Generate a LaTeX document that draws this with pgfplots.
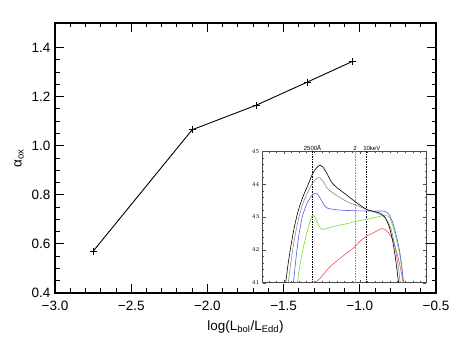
\documentclass[border=0pt]{standalone}
\usepackage{fontspec}
\setmainfont{Liberation Sans}
\usepackage{pgfplots}
\pgfplotsset{compat=1.18}

\definecolor{sedgray}{RGB}{140,140,140}
\definecolor{sedblue}{RGB}{90,90,235}
\definecolor{sedgreen}{RGB}{110,225,50}
\definecolor{sedred}{RGB}{235,85,85}

\begin{document}
\begin{tikzpicture}
\useasboundingbox (-55pt,-55pt) rectangle (408pt,293pt);
% main panel: alpha_ox against Eddington ratio
\begin{axis}[
  at={(0pt,0pt)}, anchor=south west,
  scale only axis, width=381pt, height=270pt,
  xmin=-3, xmax=-0.5, ymin=0.4, ymax=1.5,
  xtick={-3,-2.5,-2,-1.5,-1,-0.5},
  xticklabels={−3.0,−2.5,−2.0,−1.5,−1.0,−0.5},
  ytick={0.4,0.6,0.8,1.0,1.2,1.4},
  yticklabels={0.4,0.6,0.8,1.0,1.2,1.4},
  minor x tick num=4, minor y tick num=3,
  tick align=inside,
  major tick length=9pt, minor tick length=4.5pt,
  axis line style={line width=1.1pt},
  every tick/.style={line width=0.9pt, black},
  ticklabel style={font=\fontsize{13.5}{15}\selectfont},
  xticklabel style={yshift=-5pt},
  yticklabel style={xshift=-1pt},
  xlabel={log(L\textsubscript{bol}/L\textsubscript{Edd})},
  ylabel={α\textsubscript{ox}},
  label style={font=\fontsize{13.5}{15}\selectfont},
  xlabel style={yshift=-3pt},
  ylabel style={yshift=1pt},
]
\addplot[black, line width=0.9pt, mark=+, mark size=3.5pt] coordinates
  {(-2.75,0.570)(-2.10,1.065)(-1.68,1.165)(-1.345,1.259)(-1.05,1.343)};
\end{axis}
% inset: SEDs
\begin{axis}[
  at={(207.7pt,10.3pt)}, anchor=south west,
  scale only axis, width=163.3pt, height=131.4pt,
  xmin=12, xmax=22, ymin=41, ymax=45,
  axis background/.style={fill=white},
  xtick={13.30,17.94}, xticklabels={},
  minor xtick={12.372,12.836,...,21.9},
  ytick={41,42,43,44,45},
  minor y tick num=4,
  tick align=inside,
  major tick length=3pt, minor tick length=1.5pt,
  axis line style={line width=0.5pt, black!70},
  every tick/.style={line width=0.4pt, black!70},
  ticklabel style={font=\fontsize{6}{7}\selectfont},
  clip mode=individual,
]
\addplot[black, dash pattern=on 1.5pt off 1pt, line width=0.35pt] coordinates {(15.05,41)(15.05,45)};
\addplot[sedgray, densely dotted, line width=0.6pt] coordinates {(17.65,41)(17.65,45)};
\addplot[black, dash pattern=on 1.5pt off 1pt, line width=0.35pt] coordinates {(18.35,41)(18.35,45)};
\node[font=\fontsize{6}{7}\selectfont, anchor=south, inner sep=1pt] at (axis cs:15.05,45) {2500Å};
\node[font=\fontsize{6}{7}\selectfont, anchor=south, inner sep=1pt] at (axis cs:17.65,45) {2};
\node[font=\fontsize{6}{7}\selectfont, anchor=south, inner sep=1pt] at (axis cs:18.68,45) {10keV};
% red
\addplot[sedred, line width=0.6pt, smooth, tension=0.35] coordinates
  {(15.04,41.0)(15.3,41.05)(15.51,41.13)(15.8,41.3)(16.12,41.49)(16.73,41.74)(17.2,41.92)
   (17.65,42.1)(18.0,42.28)(18.37,42.42)(18.78,42.52)(19.0,42.58)(19.3,42.65)(19.55,42.6)
   (19.8,42.45)(20.05,42.2)(20.3,41.75)(20.45,41.4)(20.6,41.0)};
% green
\addplot[sedgreen, line width=0.6pt, smooth, tension=0.35] coordinates
  {(14.12,41)(14.3,41.6)(14.5,42.1)(14.75,42.6)(14.98,42.98)(15.1,43.05)(15.25,42.95)
   (15.45,42.72)(15.65,42.62)(15.9,42.65)(16.33,42.71)(17.0,42.78)(17.65,42.86)(18.4,42.93)
   (19.0,43.0)(19.45,43.05)(19.75,43.0)(19.95,42.75)(20.15,42.4)(20.37,41.9)(20.5,41.5)(20.63,41.0)};
% blue
\addplot[sedblue, line width=0.6pt, smooth, tension=0.35] coordinates
  {(13.88,41)(14.03,41.7)(14.2,42.4)(14.42,43.0)(14.7,43.4)(15.0,43.65)(15.2,43.72)(15.35,43.7)
   (15.61,43.5)(15.82,43.32)(16.0,43.26)(16.73,43.21)(17.65,43.19)(18.78,43.18)(19.4,43.18)(19.7,43.1)
   (19.95,42.85)(20.15,42.5)(20.37,42.0)(20.52,41.5)(20.62,41.0)};
% gray
\addplot[sedgray, line width=0.6pt, smooth, tension=0.35] coordinates
  {(13.57,41)(13.72,41.6)(13.9,42.2)(14.15,42.85)(14.45,43.4)(14.75,43.75)(15.04,44.02)
   (15.3,44.17)(15.48,44.2)(15.7,44.08)(15.96,43.87)(16.33,43.72)(17.14,43.47)(17.65,43.37)
   (18.37,43.23)(19.0,43.12)(19.5,42.98)(19.85,42.65)(20.1,42.1)(20.3,41.5)(20.42,41.0)};
% black
\addplot[black, line width=0.6pt, smooth, tension=0.35] coordinates
  {(13.41,41.0)(13.55,41.55)(13.72,42.1)(13.92,42.65)(14.15,43.15)(14.45,43.6)(14.75,43.95)
   (15.04,44.3)(15.3,44.5)(15.51,44.58)(15.72,44.5)(15.96,44.3)(16.22,44.06)(16.53,43.9)
   (17.14,43.67)(17.65,43.47)(18.37,43.23)(19.18,43.12)(19.5,42.98)(19.75,42.7)(19.95,42.3)
   (20.1,41.85)(20.22,41.4)(20.32,41.0)};
\end{axis}
\end{tikzpicture}
\end{document}
